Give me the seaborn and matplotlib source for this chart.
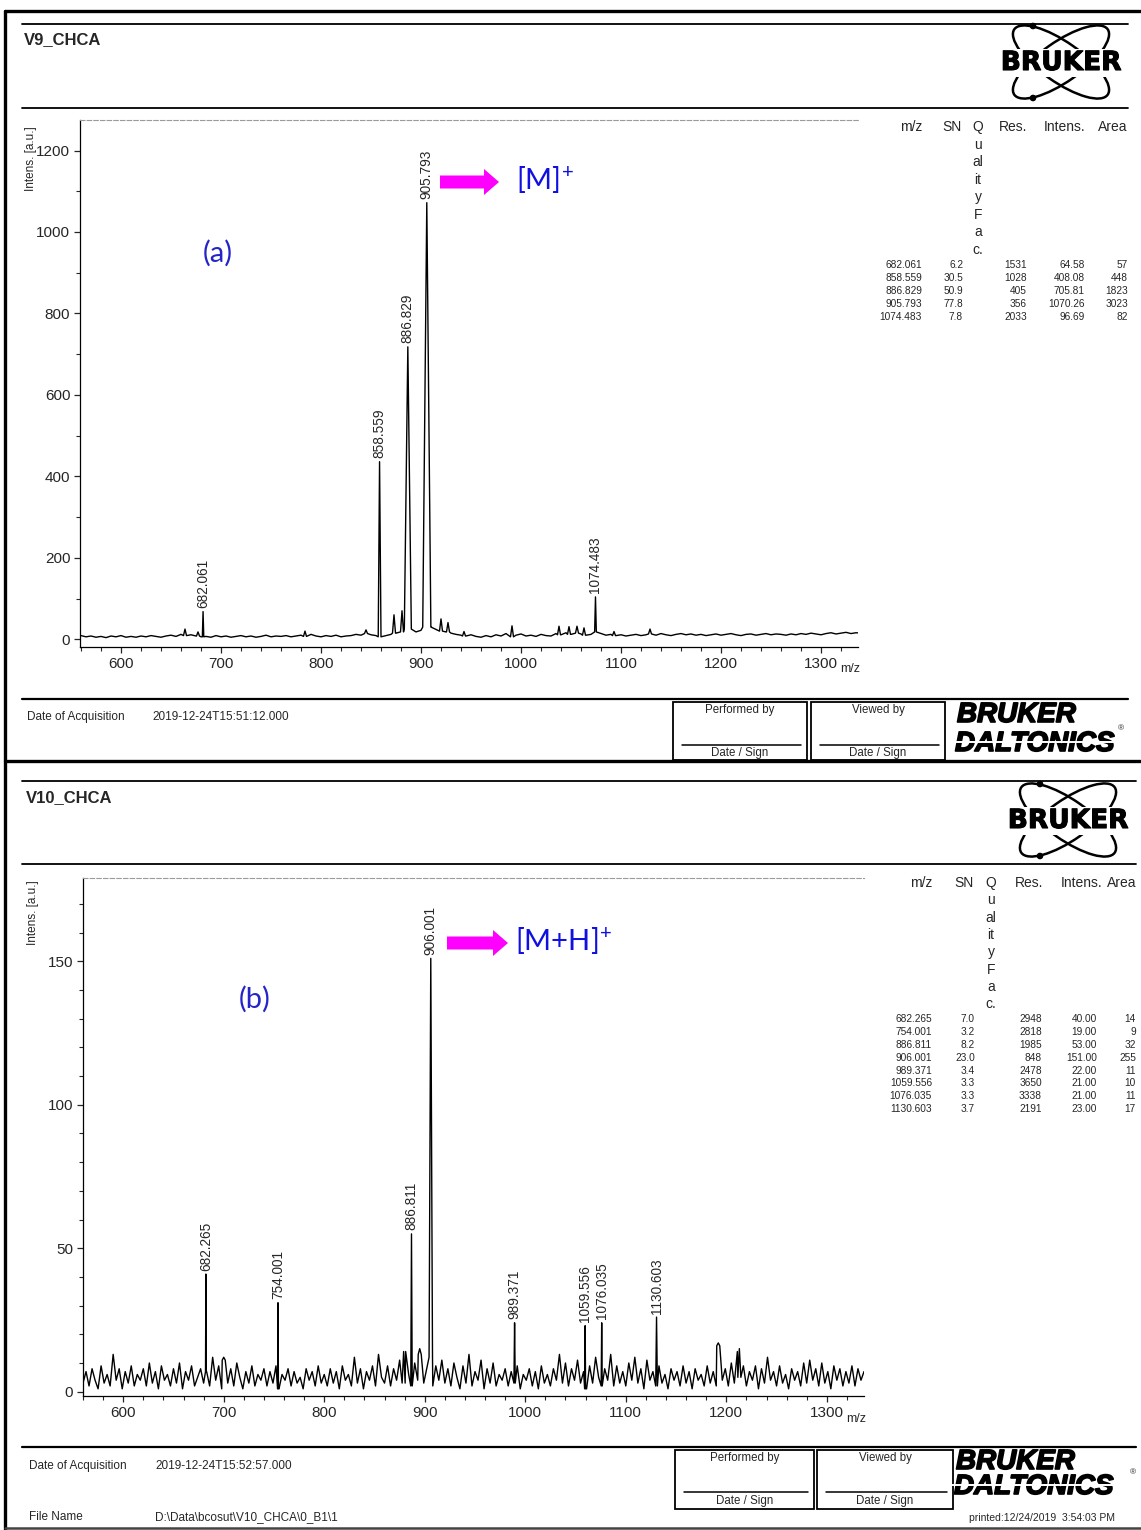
import numpy as np
import seaborn as sns
import matplotlib.pyplot as plt
import matplotlib.patheffects as pe
from matplotlib.patches import Rectangle, Ellipse, Circle, FancyArrow
from matplotlib.ticker import MultipleLocator

sns.set_style('white')
plt.rcParams['font.family'] = ['Liberation Sans', 'DejaVu Sans']
plt.rcParams['mathtext.fontset'] = 'custom'
plt.rcParams['mathtext.rm'] = 'Lato'

############################# DATA #############################

# V9_CHCA peak list (table on the printout)
mz_a     = [682.061, 858.559, 886.829, 905.793, 1074.483]
sn_a     = [6.2, 30.5, 50.9, 77.8, 7.8]
res_a    = [1531, 1028, 405, 356, 2033]
intens_a = [64.58, 408.08, 705.81, 1070.26, 96.69]
area_a   = [57, 448, 1823, 3023, 82]
# apex heights as they are drawn in the trace
apex_a   = [68, 436, 718, 1072, 104]
# small unlabelled peaks
minor_mz_a = [664, 677, 784, 845, 873, 881, 920, 927, 943, 991, 1038, 1048, 1056, 1063, 1093, 1129]
minor_h_a  = [25, 18, 20, 23, 60, 70, 50, 41, 19, 33, 32, 31, 32, 28, 19, 25]
# baseline, one reading every 5 m/z from 560 to 1340
base_a = [9, 6, 8, 5, 7, 4, 8, 6, 9, 5,
          7, 5, 8, 6, 9, 7, 5, 8, 10, 7,
          12, 9, 11, 8, 6, 7, 5, 9, 6, 8,
          5, 7, 9, 6, 8, 5, 7, 10, 6, 8,
          7, 9, 6, 8, 10, 7, 12, 8, 6, 9,
          7, 10, 6, 8, 9, 12, 10, 14, 11, 9,
          6, 9, 12, 15, 18, 25, 28, 18, 22, 30,
          30, 24, 20, 18, 15, 12, 10, 8, 11, 7,
          5, 9, 6, 11, 8, 14, 6, 10, 13, 8,
          10, 7, 12, 9, 8, 14, 11, 16, 12, 15,
          13, 10, 12, 18, 14, 10, 12, 9, 11, 8,
          10, 12, 9, 11, 13, 10, 14, 11, 9, 12,
          14, 11, 13, 10, 12, 9, 11, 13, 10, 12,
          14, 11, 9, 12, 13, 10, 12, 14, 11, 13,
          12, 10, 13, 11, 14, 12, 15, 13, 11, 14,
          16, 13, 15, 17, 14, 16, 15]

# V10_CHCA peak list
mz_b     = [682.265, 754.001, 886.811, 906.001, 989.371, 1059.556, 1076.035, 1130.603]
sn_b     = [7.0, 3.2, 8.2, 23.0, 3.4, 3.3, 3.3, 3.7]
res_b    = [2948, 2818, 1985, 848, 2478, 3650, 3338, 2191]
intens_b = [40.00, 19.00, 53.00, 151.00, 22.00, 21.00, 21.00, 23.00]
area_b   = [14, 9, 32, 255, 11, 10, 11, 17]
apex_b   = [41, 31, 55, 151, 24, 23, 24, 26]
minor_mz_b = [700, 879, 895, 1192, 1213]
minor_h_b  = [12, 14, 15, 17, 15]
# baseline grass, one reading every 3 m/z from 560 to 1340
base_b = [3, 7, 2, 8, 4, 1, 9, 3, 6, 2, 13, 4, 8, 1, 7, 3, 9, 2, 6, 4,
          8, 2, 10, 3, 7, 1, 9, 4, 6, 2, 8, 3, 10, 1, 7, 4, 9, 2, 5, 8,
          3, 7, 2, 12, 4, 9, 1, 11, 3, 8, 2, 10, 5, 1, 7, 3, 9, 2, 6, 4,
          8, 2, 7, 3, 9, 1, 6, 4, 8, 2, 7, 3, 5, 1, 8, 4, 7, 2, 9, 3,
          6, 2, 8, 3, 7, 1, 9, 4, 6, 2, 12, 3, 8, 1, 7, 4, 9, 2, 13, 5,
          3, 9, 2, 8, 4, 11, 3, 14, 6, 2, 10, 4, 13, 3, 8, 12, 2, 9, 4, 11,
          3, 8, 2, 10, 5, 1, 9, 3, 13, 2, 7, 4, 11, 1, 8, 3, 10, 2, 6, 4,
          8, 2, 7, 3, 9, 1, 6, 4, 8, 2, 7, 1, 9, 3, 6, 2, 8, 4, 13, 3,
          10, 2, 8, 4, 11, 3, 7, 1, 9, 3, 12, 5, 2, 8, 4, 13, 2, 9, 3, 7,
          2, 10, 4, 12, 3, 8, 1, 11, 4, 7, 2, 9, 3, 6, 1, 8, 4, 7, 2, 9,
          3, 7, 1, 8, 4, 6, 2, 9, 3, 7, 2, 16, 4, 8, 2, 10, 3, 14, 5, 9,
          2, 7, 4, 9, 1, 8, 3, 12, 4, 7, 2, 9, 3, 6, 1, 8, 4, 7, 2, 10,
          3, 11, 4, 8, 2, 10, 3, 7, 1, 9, 4, 8, 2, 7, 3, 9, 2, 8, 4, 7,
          5]

table_head = ['m/z', 'SN', 'Res.', 'Intens.', 'Area']
quality_head = ['Q', 'u', 'al', 'it', 'y', 'F', 'a', 'c.']

############################# LAYOUT (pixels) #############################
W, H = 1141, 1530

lay_a = dict(title='V9_CHCA', head_y=(24, 108), line_x=(22, 1128), title_xy=(24, 40),
             logo=(1061, 62), ax_box=(80, 120, 858, 647), xlim=(559, 1337), ylim=(-19, 1275),
             ymaj=200, ymin=100, ylab_xy=(31, 159), mz_xy=(850, 669),
             tag='(a)', tag_xy=(218, 253), arrow=(440, 182, 59), ion='[M]$^{+}$', ion_xy=(516, 180),
             th_y=127, q_step=17.5, row_y0=264.5, row_step=13.2, q_x=978,
             head_r=[922, 962, 1027, 1085, 1127], col_r=[922, 963, 1027, 1085, 1128],
             foot_y=699, date_y=717, date_x=(27, 152), date='2019-12-24T15:51:12.000',
             box1=(673, 702, 807, 760), box2=(811, 702, 945, 760), sign_y=745,
             perf_y=710, ds_y=753, bd_x=957, bruker_y=715, dalt_y=744, reg_xy=(1121, 729))

lay_b = dict(title='V10_CHCA', head_y=(781, 864), line_x=(22, 1136), title_xy=(26, 798),
             logo=(1068, 820), ax_box=(83, 878, 864, 1396), xlim=(560, 1337), ylim=(-1.5, 179),
             ymaj=50, ymin=10, ylab_xy=(33, 913), mz_xy=(856, 1419),
             tag='(b)', tag_xy=(255, 999), arrow=(447, 943, 61), ion='[M+H]$^{+}$', ion_xy=(515, 941),
             th_y=883, q_step=17.3, row_y0=1019, row_step=12.9, q_x=991,
             head_r=[932, 974, 1043, 1102, 1136], col_r=[932, 975, 1042, 1097, 1136],
             foot_y=1447, date_y=1466, date_x=(29, 155), date='2019-12-24T15:52:57.000',
             box1=(675, 1450, 814, 1509), box2=(817, 1450, 953, 1509), sign_y=1492,
             perf_y=1458, ds_y=1501, bd_x=956, bruker_y=1462, dalt_y=1487, reg_xy=(1133, 1473))

heavy = [pe.withStroke(linewidth=1.2, foreground='black')]


def build_trace(start, step, base, mz, h, w):
    # baseline readings plus a narrow triangle for every peak
    grid = start + step * np.arange(len(base))
    base = np.asarray(base, float)
    keep = np.ones(len(grid), bool)
    for m, ww in zip(mz, w):
        keep &= np.abs(grid - m) > ww
    xs, ys = list(grid[keep]), list(base[keep])
    for m, hh, ww in zip(mz, h, w):
        b = base[np.abs(grid - m).argmin()]
        xs += [m - ww, m, m + ww]
        ys += [b, hh, b]
    xs, ys = np.array(xs), np.array(ys)
    order = np.argsort(xs, kind='stable')
    return xs[order], ys[order]


def draw_panel(fig, bg, lay, mz, sn, res, intens, area, apex, minor_mz, minor_h, base, step, file_name=None):
    # header
    for y in lay['head_y']:
        bg.plot(lay['line_x'], [y, y], color='black', lw=1.3)
    bg.text(*lay['title_xy'], lay['title'], fontsize=12, fontweight='bold', va='center', ha='left')

    # Bruker logo
    cx, cy = lay['logo']
    for ang in (35, -35):
        bg.add_patch(Ellipse((cx, cy), 114, 40, angle=ang, fill=False, lw=1.8, ec='black'))
    for dy in (-36, 36):
        bg.add_patch(Circle((cx - 28, cy + dy), 2.6, color='black'))
    bg.text(cx, cy + 1, 'BRUKER', ha='center', va='center', fontsize=19, fontweight='bold',
            family='DejaVu Sans', color='black', bbox=dict(fc='white', ec='none', pad=0.5),
            path_effects=[pe.withStroke(linewidth=0.8, foreground='black')])

    # spectrum
    l, t, r, b = lay['ax_box']
    ax = fig.add_axes([l / W, 1 - b / H, (r - l) / W, (b - t) / H])
    ax.set_facecolor('none')
    widths = [1.6 * m / rr for m, rr in zip(mz, res)] + [1.5] * len(minor_mz)
    xs, ys = build_trace(560, step, base, list(mz) + list(minor_mz), list(apex) + list(minor_h), widths)
    sns.lineplot(x=xs, y=ys, ax=ax, color='black', lw=1.0, estimator=None, sort=False)
    for m, hh in zip(mz, apex):
        ax.annotate(f'{m:.3f}', xy=(m, hh), xytext=(0, 2.5), textcoords='offset points',
                    rotation=90, ha='center', va='bottom', fontsize=9.8)
    ax.set_xlim(*lay['xlim'])
    ax.set_ylim(*lay['ylim'])
    ax.xaxis.set_major_locator(MultipleLocator(100))
    ax.xaxis.set_minor_locator(MultipleLocator(20))
    ax.yaxis.set_major_locator(MultipleLocator(lay['ymaj']))
    ax.yaxis.set_minor_locator(MultipleLocator(lay['ymin']))
    ax.tick_params(which='major', direction='out', length=4.5, width=0.9, labelsize=11, pad=2.5,
                   bottom=True, left=True)
    ax.tick_params(which='minor', direction='out', length=3, width=0.8, bottom=True, left=True)
    ax.spines['right'].set_visible(False)
    ax.spines['top'].set_color('#9a9a9a')
    ax.spines['top'].set_linestyle((0, (4, 2)))
    ax.spines['top'].set_linewidth(0.8)
    for s in ('left', 'bottom'):
        ax.spines[s].set_color('black')
        ax.spines[s].set_linewidth(0.9)
    ax.set_xlabel('')
    ax.set_ylabel('')
    bg.text(*lay['ylab_xy'], 'Intens. [a.u.]', rotation=90, ha='center', va='center', fontsize=8.5)
    bg.text(*lay['mz_xy'], 'm/z', ha='center', va='center', fontsize=9)

    # annotations in blue / magenta
    bg.text(*lay['tag_xy'], lay['tag'], ha='center', va='center', fontsize=21, family='Lato',
            color='#2424c8')
    ax0, ay0, alen = lay['arrow']
    bg.add_patch(FancyArrow(ax0, ay0, alen, 0, width=13, head_width=26, head_length=15,
                            length_includes_head=True, color='#ff00ff', lw=0))
    bg.text(*lay['ion_xy'], lay['ion'], ha='left', va='center', fontsize=21, family='Lato',
            color='#1010e0')

    # peak table
    ty = lay['th_y']
    for txt, xr in zip(table_head, lay['head_r']):
        bg.text(xr, ty, txt, ha='right', va='center', fontsize=10)
    for i, q in enumerate(quality_head):
        bg.text(lay['q_x'], ty + i * lay['q_step'], q, ha='center', va='center', fontsize=10)
    for k in range(len(mz)):
        y = lay['row_y0'] + k * lay['row_step']
        cells = [f'{mz[k]:.3f}', f'{sn[k]:.1f}', f'{res[k]}', f'{intens[k]:.2f}', f'{area[k]}']
        for txt, xr in zip(cells, lay['col_r']):
            bg.text(xr, y, txt, ha='right', va='center', fontsize=7.3)

    # footer
    bg.plot(lay['line_x'], [lay['foot_y']] * 2, color='black', lw=1.6)
    bg.text(lay['date_x'][0], lay['date_y'], 'Date of Acquisition', ha='left', va='center', fontsize=8.5)
    bg.text(lay['date_x'][1], lay['date_y'], lay['date'], ha='left', va='center', fontsize=8.5)
    if file_name is not None:
        bg.text(lay['date_x'][0], 1517, 'File Name', ha='left', va='center', fontsize=8.5)
        bg.text(lay['date_x'][1], 1517, file_name, ha='left', va='center', fontsize=8.5)
    for (x0, y0, x1, y1), head in zip((lay['box1'], lay['box2']), ('Performed by', 'Viewed by')):
        bg.add_patch(Rectangle((x0, y0), x1 - x0, y1 - y0, fill=False, ec='black', lw=1.3))
        bg.plot([x0 + 9, x1 - 6], [lay['sign_y']] * 2, color='black', lw=1.1)
        bg.text((x0 + x1) / 2, lay['perf_y'], head, ha='center', va='center', fontsize=8.3)
        bg.text((x0 + x1) / 2, lay['ds_y'], 'Date / Sign', ha='center', va='center', fontsize=8.3)
    bg.text(lay['bd_x'], lay['bruker_y'], 'BRUKER', ha='left', va='center', fontsize=20,
            fontweight='bold', fontstyle='italic', color='black', path_effects=heavy)
    bg.text(lay['bd_x'] - 2, lay['dalt_y'], 'DALTONICS', ha='left', va='center', fontsize=20,
            fontweight='bold', fontstyle='italic', color='black', path_effects=heavy)
    bg.plot([lay['bd_x'] - 4, lay['bd_x'] + 162], [lay['dalt_y'] - 2] * 2, color='white', lw=1.4,
            zorder=5)
    bg.text(*lay['reg_xy'], '®', ha='center', va='center', fontsize=6)
    return ax


############################# FIGURE #############################
fig = plt.figure(figsize=(W / 100, H / 100), dpi=100)
bg = fig.add_axes([0, 0, 1, 1])
bg.set_xlim(0, W)
bg.set_ylim(H, 0)
bg.axis('off')

# page frame
bg.plot([5, 5], [11, H], color='black', lw=2.4)
bg.plot([5, W], [11, 11], color='black', lw=2.4)
bg.plot([5, W], [761, 761], color='black', lw=2.4)
bg.plot([5, W], [1528, 1528], color='#444444', lw=1.8)

draw_panel(fig, bg, lay_a, mz_a, sn_a, res_a, intens_a, area_a, apex_a,
           minor_mz_a, minor_h_a, base_a, 5)
draw_panel(fig, bg, lay_b, mz_b, sn_b, res_b, intens_b, area_b, apex_b,
           minor_mz_b, minor_h_b, base_b, 3, file_name='D:\\Data\\bcosut\\V10_CHCA\\0_B1\\1')
bg.text(1042, 1518, 'printed:12/24/2019  3:54:03 PM', ha='center', va='center', fontsize=7.5)

fig.savefig('out.png', dpi=100)
